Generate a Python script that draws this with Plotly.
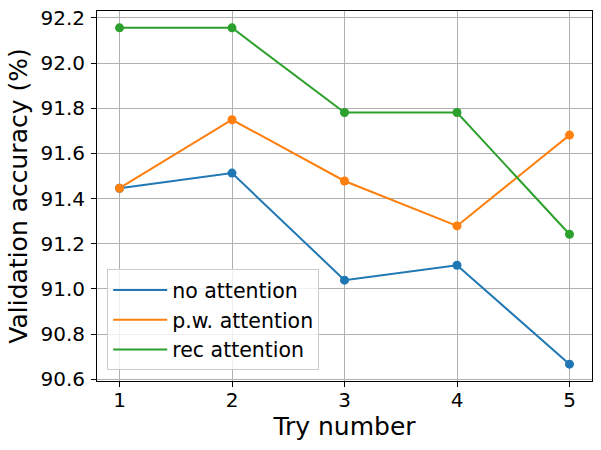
import plotly.graph_objects as go

tries = [1, 2, 3, 4, 5]
no_attention = [91.446, 91.513, 91.039, 91.105, 90.667]
pw_attention = [91.446, 91.749, 91.478, 91.279, 91.681]
rec_attention = [92.156, 92.156, 91.781, 91.781, 91.242]

series_names = ["no attention", "p.w. attention", "rec attention"]
series_values = [no_attention, pw_attention, rec_attention]
colors = ["#1f77b4", "#ff7f0e", "#2ca02c"]

x_ticks = [1, 2, 3, 4, 5]
y_ticks = [90.6, 90.8, 91.0, 91.2, 91.4, 91.6, 91.8, 92.0, 92.2]

fig = go.Figure()
for name, vals, c in zip(series_names, series_values, colors):
    fig.add_trace(go.Scatter(x=tries, y=vals, mode="lines", name=name,
                             line=dict(color=c, width=2)))
for name, vals, c in zip(series_names, series_values, colors):
    fig.add_trace(go.Scatter(x=tries, y=vals, mode="markers", showlegend=False,
                             marker=dict(color=c, size=9), hoverinfo="skip"))

allv = no_attention + pw_attention + rec_attention
lo, hi = min(allv), max(allv)
pad = (hi - lo) * 0.05

axis_common = dict(showgrid=True, gridcolor="#b0b0b0", gridwidth=1,
                   showline=True, linecolor="black", linewidth=1, mirror=True,
                   ticks="outside", ticklen=5, tickcolor="black", zeroline=False,
                   automargin=False, ticklabeloverflow="allow",
                   tickfont=dict(size=20, color="black"))

fig.update_layout(
    width=601, height=450,
    margin=dict(l=96.5, r=8.7, t=11.3, b=69.3),
    paper_bgcolor="white", plot_bgcolor="white",
    font=dict(family="DejaVu Sans", color="black"),
    xaxis=dict(range=[0.8, 5.2], tickvals=x_ticks, ticktext=[str(t) for t in x_ticks],
               ticklabelstandoff=-4,
               title=dict(text="Try number", font=dict(size=25), standoff=2),
               **axis_common),
    yaxis=dict(range=[lo - pad, hi + pad], tickvals=y_ticks,
               ticktext=[f"{t:.1f}" for t in y_ticks],
               ticklabelstandoff=2,
               title=dict(text="Validation accuracy (%)", font=dict(size=25), standoff=5),
               **axis_common),
    legend=dict(x=0.0206, y=0.029, xanchor="left", yanchor="bottom",
                bgcolor="rgba(255,255,255,0.8)", bordercolor="#cccccc", borderwidth=1,
                font=dict(size=20.5), itemwidth=54),
    showlegend=True,
)

fig.write_html("out.html", config={"displayModeBar": False},
               post_script="document.body.style.margin='0px';")
